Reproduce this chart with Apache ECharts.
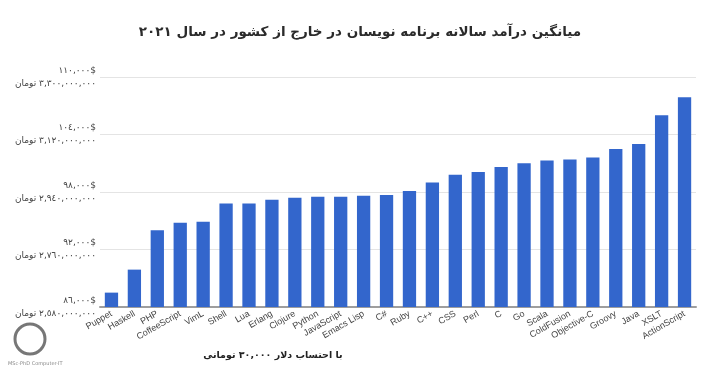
<!DOCTYPE html>
<html><head><meta charset="utf-8">
<script src="https://cdn.jsdelivr.net/npm/echarts@6/dist/echarts.min.js"></script>
<style>html,body{margin:0;padding:0;background:#fff}#c{width:720px;height:374px}</style>
</head><body><div id="c"></div>
<script>
const categories = ['Puppet','Haskell','PHP','CoffeeScript','VimL','Shell','Lua','Erlang','Clojure','Python','JavaScript','Emacs Lisp','C#','Ruby','C++','CSS','Perl','C','Go','Scala','ColdFusion','Objective-C','Groovy','Java','XSLT','ActionScript'];
const salaries = [87500,89900,94000,94800,94900,96800,96800,97200,97400,97500,97500,97600,97700,98100,99000,99800,100100,100600,101000,101300,101400,101600,102500,103000,106000,107900];
const tickDollar = {86000:'٨٦,٠٠٠$',92000:'٩٢,٠٠٠$',98000:'٩٨,٠٠٠$',104000:'١٠٤,٠٠٠$',110000:'١١٠,٠٠٠$'};
const tickToman = {86000:'٢,٥٨٠,٠٠٠,٠٠٠ تومان',92000:'٢,٧٦٠,٠٠٠,٠٠٠ تومان',98000:'٢,٩٤٠,٠٠٠,٠٠٠ تومان',104000:'٣,١٢٠,٠٠٠,٠٠٠ تومان',110000:'٣,٣٠٠,٠٠٠,٠٠٠ تومان'};
const titleText = 'میانگین درآمد سالانه برنامه نویسان در خارج از کشور در سال ۲۰۲۱';
const noteText = 'با احتساب دلار ۳۰,۰۰۰ تومانی';

const chart = echarts.init(document.getElementById('c'));
chart.setOption({
  animation: false,
  textStyle: {fontFamily: 'DejaVu Sans'},
  title: {text: titleText, left: 'center', top: 20,
    textStyle: {fontFamily: 'DejaVu Sans', fontWeight: 'bold', fontSize: 13.5, color: '#2b2b2b'}},
  graphic: [
    {type: 'text', style: {x: 273, y: 356, align: 'center', verticalAlign: 'middle', text: noteText, font: 'bold 9.5px "DejaVu Sans"', fill: '#222'}},
    {type: 'circle', shape: {cx: 30, cy: 339, r: 15}, style: {fill: 'none', stroke: '#777', lineWidth: 3}},
    {type: 'text', left: 8, top: 361, style: {text: 'MSc-PhD Computer-IT', font: '5px "DejaVu Sans"', fill: '#888'}}
  ],
  grid: {left: 100, right: 24, top: 77, bottom: 67},
  xAxis: {
    type: 'category', data: categories,
    axisTick: {show: false},
    axisLine: {lineStyle: {color: '#9e9e9e', width: 2}},
    axisLabel: {rotate: 30, fontSize: 9, color: '#444', margin: 6, interval: 0, fontFamily: 'Liberation Sans'}
  },
  yAxis: {
    type: 'value', min: 86000, max: 110000, interval: 6000,
    axisLine: {show: false}, axisTick: {show: false},
    splitLine: {lineStyle: {color: '#e4e4e4', width: 1}},
    axisLabel: {
      margin: 4, fontSize: 9, color: '#444', lineHeight: 13,
      formatter: v => tickDollar[v] + '\n' + tickToman[v]
    }
  },
  series: [{
    type: 'bar', data: salaries, barWidth: '58%',
    itemStyle: {color: '#3366cc'}
  }]
});
</script></body></html>
